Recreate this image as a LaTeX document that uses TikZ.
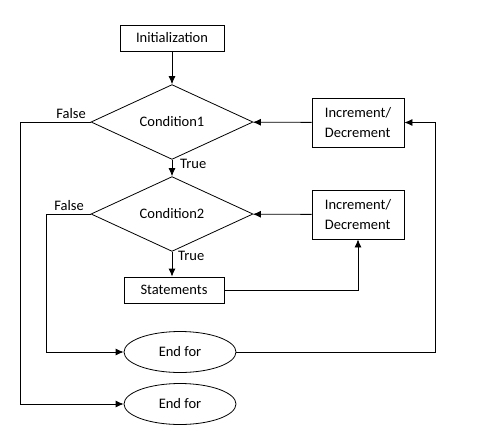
\documentclass[tikz,border=0pt]{standalone}
\usepackage{fontspec}
\setmainfont{Carlito}
\usetikzlibrary{arrows.meta, shapes.geometric, positioning}

\begin{document}
\begin{tikzpicture}[x=1pt, y=-1pt, font=\fontsize{14.5}{20}\selectfont,
  box/.style={draw, rectangle, inner sep=0pt, line width=0.8pt},
  cond/.style={draw, diamond, minimum width=162pt, minimum height=59pt, inner sep=0pt, line width=0.8pt},
  stop/.style={draw, ellipse, minimum width=112pt, minimum height=41pt, inner sep=0pt, line width=0.8pt},
  flow/.style={-{Latex[length=8pt, width=7pt]}, line width=0.8pt}]
\useasboundingbox (0,0) rectangle (485,437);
\node[box, minimum width=104pt, minimum height=26pt] (init) at (172,38) {Initialization};
\node[cond] (c1) at (172,122) {Condition1};
\node[box, minimum width=92pt, minimum height=49pt, align=left] (inc1) at (358,122.5) {Increment/\\Decrement};
\node[cond] (c2) at (172,214) {Condition2};
\node[box, minimum width=92pt, minimum height=49pt, align=left] (inc2) at (358,214.5) {Increment/\\Decrement};
\node[box, minimum width=100pt, minimum height=26pt] (stat) at (174,290) {Statements};
\node[stop] (end1) at (180,352) {End for};
\node[stop] (end2) at (180,404) {End for};
% labels
\node[inner sep=0pt, anchor=east] (false1) at (86,114) {False};
\node[inner sep=0pt, anchor=west] (true1) at (180,164) {True};
\node[inner sep=0pt, anchor=east] (false2) at (84,206) {False};
\node[inner sep=0pt, anchor=west] (true2) at (178,256) {True};
% corners
\coordinate (f1) at (20,122);
\coordinate (f2) at (46,214);
\coordinate (back) at (435,352);
\draw [flow] (init) -- (c1);
\draw [flow] (c1) -- (c2);
\draw [flow] (c2.south) -- (c2.south |- stat.north);
\draw [flow] (inc1) -- (c1);
\draw [flow] (inc2) -- (c2);
\draw [flow] (stat) -| (inc2);
\draw [flow] (c1) -- (f1) |- (end2);
\draw [flow] (c2) -- (f2) |- (end1);
\draw [flow] (end1) -- (back) |- (inc1);
\end{tikzpicture}
\end{document}
